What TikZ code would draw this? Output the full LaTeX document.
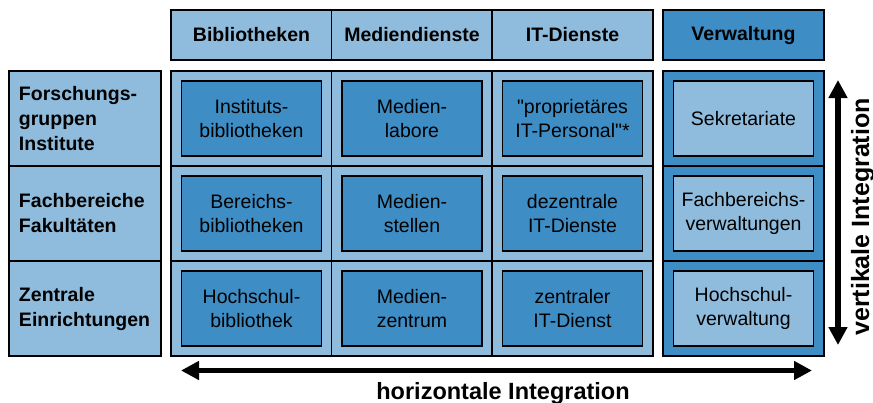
\documentclass[tikz,border=0pt]{standalone}
\usepackage{fontspec}
\setmainfont{Liberation Sans}
\newfontfamily\plainq{Liberation Sans}
\usetikzlibrary{arrows.meta}
\definecolor{lightb}{RGB}{143,188,221}
\definecolor{darkb}{RGB}{62,141,197}
\tikzset{
  cell/.style={draw=black, line width=1.2pt, rectangle, inner sep=0pt, minimum width=161pt, minimum height=95pt},
  headcell/.style={cell, minimum height=50pt, font=\fontsize{19.5}{24}\selectfont\bfseries},
  rowcell/.style={cell, minimum width=152pt, text width=132pt, align=left, font=\fontsize{19.5}{25}\selectfont\bfseries},
  inner/.style={draw=black, line width=1.2pt, rectangle, inner sep=0pt, minimum width=140pt, minimum height=75pt, align=center, font=\fontsize{19.5}{24.5}\selectfont},
  bigarrow/.style={line width=5.5pt, {Triangle[width=18pt,length=18pt]}-{Triangle[width=18pt,length=18pt]}},
  bigtext/.style={font=\fontsize{23.5}{28}\selectfont\bfseries},
  vtext/.style={font=\fontsize{25}{30}\selectfont\bfseries}
}
\begin{document}
\begin{tikzpicture}[x=1pt,y=-1pt]
\useasboundingbox (0,0) rectangle (873,402);
% header row
\node[headcell, fill=lightb] (hBib) at (251.5,35) {Bibliotheken};
\node[headcell, fill=lightb] (hMed) at (412,35) {Mediendienste};
\node[headcell, fill=lightb] (hIT) at (572.5,35) {IT-Dienste};
\node[headcell, fill=darkb] (hVer) at (743.5,35) {Verwaltung};
% row headers
\node[rowcell, fill=lightb] (r1) at (85,118.5) {Forschungs-\\gruppen\\Institute};
\node[rowcell, fill=lightb] (r2) at (85,213.5) {Fachbereiche\\Fakultäten};
\node[rowcell, fill=lightb] (r3) at (85,308.5) {Zentrale\\Einrichtungen};
% main grid cells
\foreach \c/\x in {1/251.5,2/412,3/572.5}{
  \foreach \r/\y in {1/118.5,2/213.5,3/308.5}{
    \node[cell, fill=lightb] (c\c\r) at (\x,\y) {};
  }
}
\foreach \r/\y in {1/118.5,2/213.5,3/308.5}{
  \node[cell, fill=darkb] (cV\r) at (743.5,\y) {};
}
% inner boxes
\node[inner, fill=darkb] (i11) at (c11) {Instituts-\\bibliotheken};
\node[inner, fill=darkb] (i12) at (c12) {Bereichs-\\bibliotheken};
\node[inner, fill=darkb] (i13) at (c13) {Hochschul-\\bibliothek};
\node[inner, fill=darkb] (i21) at (c21) {Medien-\\labore};
\node[inner, fill=darkb] (i22) at (c22) {Medien-\\stellen};
\node[inner, fill=darkb] (i23) at (c23) {Medien-\\zentrum};
\node[inner, fill=darkb] (i31) at (c31) {{\plainq"}proprietäres\\IT-Personal{\plainq"}*};
\node[inner, fill=darkb] (i32) at (c32) {dezentrale\\IT-Dienste};
\node[inner, fill=darkb] (i33) at (c33) {zentraler\\IT-Dienst};
\node[inner, fill=lightb] (iV1) at (cV1) {Sekretariate};
\node[inner, fill=lightb] (iV2) at (cV2) {Fachbereichs-\\verwaltungen};
\node[inner, fill=lightb] (iV3) at (cV3) {Hochschul-\\verwaltung};
% arrows
\coordinate (hL) at (181,370.5);
\coordinate (hR) at (812,370.5);
\draw[bigarrow] (hL) -- (hR);
\coordinate (vT) at (838,80);
\coordinate (vB) at (838,345);
\draw[bigarrow] (vT) -- (vB);
\node[bigtext, anchor=base, inner sep=0pt] (hText) at (503,399.5) {horizontale Integration};
\node[vtext, anchor=base, inner sep=0pt, rotate=90] (vText) at (869,217) {vertikale Integration};
\end{tikzpicture}
\end{document}
